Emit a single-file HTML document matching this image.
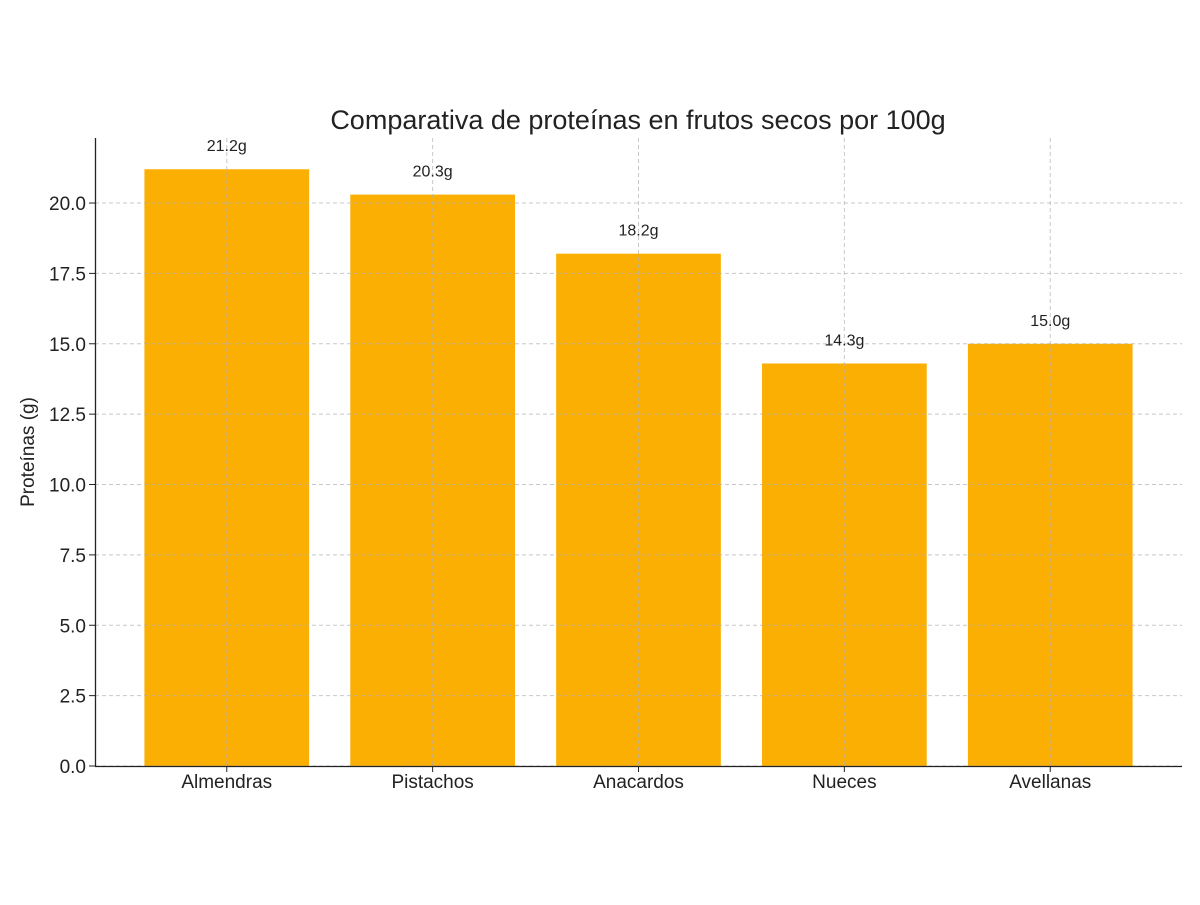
<!DOCTYPE html>
<html><head><meta charset="utf-8"><style>
body{margin:0;background:#fff;}
svg text{font-family:"Liberation Sans","DejaVu Sans",sans-serif;}
</style></head><body>
<svg id="chart" width="1200" height="900" xmlns="http://www.w3.org/2000/svg">
<rect width="1200" height="900" fill="#fff"/>
<text x="638" y="129" font-size="27" text-anchor="middle" fill="#222">Comparativa de proteínas en frutos secos por 100g</text>
<text transform="translate(34,452) rotate(-90)" font-size="19" text-anchor="middle" fill="#222">Proteínas (g)</text>
<g id="bars"></g><g id="grid"></g><g id="ticks"></g><g id="labels"></g>
<line x1="95.5" y1="138" x2="95.5" y2="766" stroke="#222" stroke-width="1.3"/>
<line x1="95" y1="766.5" x2="1182" y2="766.5" stroke="#222" stroke-width="1.3"/>
</svg>
<script>
const categories = ["Almendras","Pistachos","Anacardos","Nueces","Avellanas"];
const values = [21.2, 20.3, 18.2, 14.3, 15.0];
const valueLabels = ["21.2g","20.3g","18.2g","14.3g","15.0g"];
const yTicks = [0,2.5,5,7.5,10,12.5,15,17.5,20];
const yTickLabels = ["0.0","2.5","5.0","7.5","10.0","12.5","15.0","17.5","20.0"];
const NS="http://www.w3.org/2000/svg";
const L=95,R=1182,T=138,B=766,yMax=22.31,xMin=-0.64,xMax=categories.length-1+0.64;
const y=v=>B-(v/yMax)*(B-T);
const x=i=>L+(i-xMin)/(xMax-xMin)*(R-L);
const bw=0.8*(R-L)/(xMax-xMin);
function mk(tag,attrs,parent){const e=document.createElementNS(NS,tag);for(const k in attrs)e.setAttribute(k,attrs[k]);document.getElementById(parent).appendChild(e);return e;}
values.forEach((v,i)=>{
  const r=mk('rect',{x:x(i)-bw/2,y:y(v),width:bw,height:B-y(v),fill:'#FCAF03'},'bars');
  
  
  const t=mk('text',{x:x(i),y:y(v)-18,'font-size':16,'text-anchor':'middle',fill:'#222'},'labels');
  t.textContent=valueLabels[i];
  
  
  const g=mk('line',{x1:x(i),x2:x(i),y1:T,y2:B,stroke:'#b0b0b0','stroke-width':1,'stroke-dasharray':'4,3','stroke-opacity':0.7},'grid');
  
  
  const tk=mk('line',{x1:x(i),x2:x(i),y1:B,y2:B+6,stroke:'#222'},'ticks');
  
  
  const xl=mk('text',{x:x(i),y:B+22,'font-size':19,'text-anchor':'middle',fill:'#222'},'ticks');
  xl.textContent=categories[i];
  
  
});
yTicks.forEach((v,i)=>{
  const g=mk('line',{x1:L,x2:R,y1:y(v),y2:y(v),stroke:'#b0b0b0','stroke-width':1,'stroke-dasharray':'4,3','stroke-opacity':0.7},'grid');
  
  
  const tk=mk('line',{x1:L-6,x2:L,y1:y(v),y2:y(v),stroke:'#222'},'ticks');
  
  
  const t=mk('text',{x:L-9,y:y(v)+7,'font-size':19,'text-anchor':'end',fill:'#222'},'ticks');
  t.textContent=yTickLabels[i];
  
  
});
</script>
</body></html>
